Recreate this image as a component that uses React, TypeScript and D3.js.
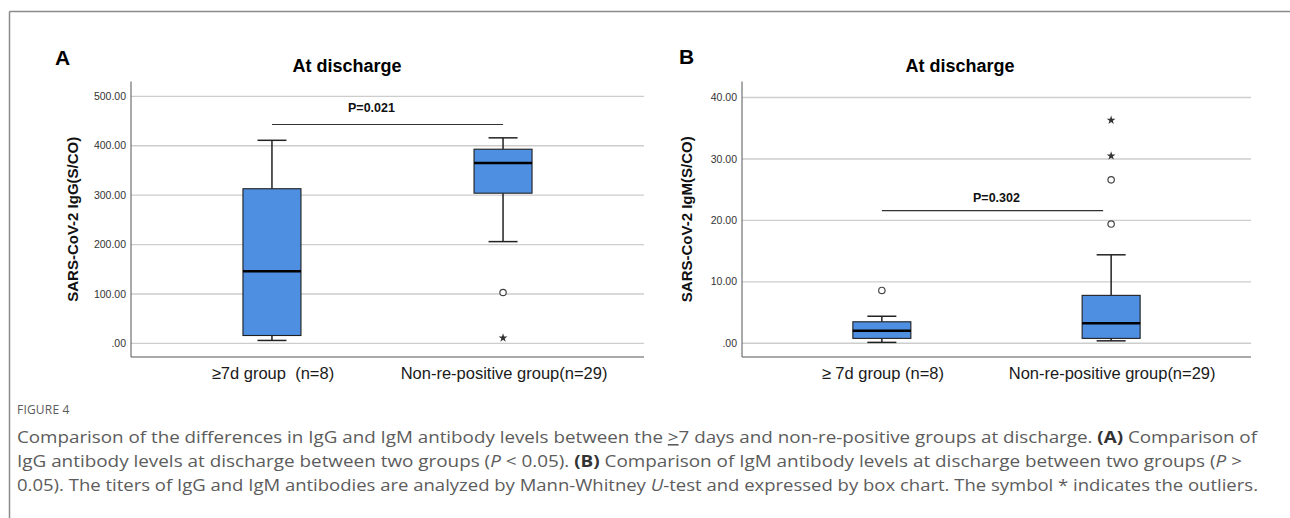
import React from "react";
import * as d3 from "d3";

// ---------- data ----------
const groupsA = ["≥7d group  (n=8)", "Non-re-positive group(n=29)"];
const groupsB = ["≥ 7d group (n=8)", "Non-re-positive group(n=29)"];

// IgG (panel A) box statistics per group
const iggLow = [6, 206];
const iggQ1 = [16, 304];
const iggMedian = [146, 365];
const iggQ3 = [313, 393];
const iggHigh = [411, 416];
const iggCircles = [[], [103]];
const iggStars = [[], [11]];
const iggTicks = [0, 100, 200, 300, 400, 500];
const iggP = { label: "P=0.021", value: 443 };

// IgM (panel B) box statistics per group
const igmLow = [0.15, 0.4];
const igmQ1 = [0.8, 0.8];
const igmMedian = [2.05, 3.25];
const igmQ3 = [3.5, 7.8];
const igmHigh = [4.4, 14.4];
const igmCircles = [[8.6], [26.6, 19.4]];
const igmStars = [[], [36.3, 30.5]];
const igmTicks = [0, 10, 20, 30, 40];
const igmP = { label: "P=0.302", value: 21.6 };

const fmt = (d: number) => (d === 0 ? ".00" : d.toFixed(2));

const SANS = "'Liberation Sans', Arial, sans-serif";
const BOX_FILL = "#4f8fe2";

type PanelProps = {
  letter: string;
  letterX: number;
  letterY: number;
  title: string;
  titleX: number;
  yLabel: string;
  yLabelX: number;
  groups: string[];
  low: number[];
  q1: number[];
  median: number[];
  q3: number[];
  high: number[];
  circles: number[][];
  stars: number[][];
  ticks: number[];
  domain: [number, number];
  x0: number;
  x1: number;
  p: { label: string; value: number };
  pOffsetX: number;
  pGap: number;
  pEndTrim: number;
};

function Panel(props: PanelProps) {
  const top = 81.5;
  const bottom = 357;
  const y = d3.scaleLinear().domain(props.domain).range([bottom, top]);
  const x = d3.scalePoint<string>().domain(props.groups).range([props.x0, props.x1]).padding(0.61);
  const bw = 58;
  const star = d3.symbol().type(d3.symbolStar).size(24)() as string;
  const c0 = x(props.groups[0]) as number;
  const c1 = x(props.groups[1]) as number;
  const py = y(props.p.value);
  return (
    <g fontFamily={SANS}>
      <text x={props.letterX} y={props.letterY} fontSize={21} fontWeight="bold" fill="#000">
        {props.letter}
      </text>
      <text x={props.titleX} y={72} fontSize={18} fontWeight="bold" textAnchor="middle" fill="#000">
        {props.title}
      </text>
      {/* grid */}
      {props.ticks.map((t) => (
        <g key={t}>
          <line x1={props.x0} x2={props.x1} y1={y(t)} y2={y(t)} stroke="#cdcdcd" strokeWidth={1.4} />
          <text x={props.x0 - 5} y={y(t) + 3.6} fontSize={10.5} textAnchor="end" fill="#333">
            {fmt(t)}
          </text>
        </g>
      ))}
      {/* axes */}
      <line x1={props.x0} x2={props.x0} y1={top} y2={bottom} stroke="#555" strokeWidth={1} />
      <line x1={props.x0} x2={props.x1} y1={bottom} y2={bottom} stroke="#555" strokeWidth={1} />
      <text
        transform={`translate(${props.yLabelX},${(top + bottom) / 2}) rotate(-90)`}
        fontSize={15}
        fontWeight="bold"
        textAnchor="middle"
        fill="#111"
      >
        {props.yLabel}
      </text>
      {/* p-value bracket */}
      <line x1={c0} x2={c1 - props.pEndTrim} y1={py} y2={py} stroke="#333" strokeWidth={1.2} />
      <text
        x={(c0 + c1) / 2 + props.pOffsetX}
        y={py - props.pGap}
        fontSize={12.5}
        fontWeight="bold"
        textAnchor="middle"
        fill="#111"
      >
        {props.p.label}
      </text>
      {/* boxes */}
      {props.groups.map((g, i) => {
        const cx = x(g) as number;
        return (
          <g key={g}>
            <line x1={cx} x2={cx} y1={y(props.high[i])} y2={y(props.q3[i])} stroke="#222" strokeWidth={1.5} />
            <line x1={cx} x2={cx} y1={y(props.q1[i])} y2={y(props.low[i])} stroke="#222" strokeWidth={1.5} />
            <line x1={cx - bw / 4} x2={cx + bw / 4} y1={y(props.high[i])} y2={y(props.high[i])} stroke="#222" strokeWidth={1.5} />
            <line x1={cx - bw / 4} x2={cx + bw / 4} y1={y(props.low[i])} y2={y(props.low[i])} stroke="#222" strokeWidth={1.5} />
            <rect
              x={cx - bw / 2}
              y={y(props.q3[i])}
              width={bw}
              height={y(props.q1[i]) - y(props.q3[i])}
              fill={BOX_FILL}
              stroke="#1f1f1f"
              strokeWidth={1.1}
            />
            <line x1={cx - bw / 2} x2={cx + bw / 2} y1={y(props.median[i])} y2={y(props.median[i])} stroke="#000" strokeWidth={2.6} />
            {props.circles[i].map((v, k) => (
              <circle key={"c" + k} cx={cx} cy={y(v)} r={3.2} fill="#fff" stroke="#444" strokeWidth={1.2} />
            ))}
            {props.stars[i].map((v, k) => (
              <path key={"s" + k} d={star} transform={`translate(${cx},${y(v)})`} fill="#333" />
            ))}
            <text x={cx + 1} y={378.5} fontSize={16.5} textAnchor="middle" fill="#1a1a1a" style={{ whiteSpace: "pre" }}>
              {g}
            </text>
          </g>
        );
      })}
    </g>
  );
}

export default function App() {
  const capFont = "'Open Sans', 'Noto Sans', sans-serif";
  const capColor = "#5c5c5c";
  const dark = "#333";
  return (
    <div style={{ position: "absolute", left: 0, top: 0 }}>
      <svg width={1290} height={518} style={{ display: "block", background: "#fff" }}>
        <rect x={0} y={0} width={1290} height={518} fill="#fff" />
        <line x1={9.5} x2={1290} y1={11.5} y2={11.5} stroke="#8a8a8a" strokeWidth={1.5} />
        <line x1={9.5} x2={9.5} y1={11.5} y2={518} stroke="#8a8a8a" strokeWidth={1.5} />
        <Panel
          letter="A"
          letterX={55}
          letterY={65}
          title="At discharge"
          titleX={347}
          yLabel="SARS-CoV-2 IgG(S/CO)"
          yLabelX={78}
          groups={groupsA}
          low={iggLow}
          q1={iggQ1}
          median={iggMedian}
          q3={iggQ3}
          high={iggHigh}
          circles={iggCircles}
          stars={iggStars}
          ticks={iggTicks}
          domain={[-27.5, 530]}
          x0={131}
          x1={644}
          p={iggP}
          pOffsetX={-16}
          pGap={12}
          pEndTrim={0}
        />
        <Panel
          letter="B"
          letterX={679}
          letterY={64}
          title="At discharge"
          titleX={960}
          yLabel="SARS-CoV-2 IgM(S/CO)"
          yLabelX={692}
          groups={groupsB}
          low={igmLow}
          q1={igmQ1}
          median={igmMedian}
          q3={igmQ3}
          high={igmHigh}
          circles={igmCircles}
          stars={igmStars}
          ticks={igmTicks}
          domain={[-2.23, 42.6]}
          x0={742}
          x1={1251}
          p={igmP}
          pOffsetX={0}
          pGap={9}
          pEndTrim={8}
        />
        {/* caption */}
        <text x={17} y={414} fontFamily={capFont} fontSize={12} fill={capColor} letterSpacing={0.2}>
          FIGURE 4
        </text>
        <g fontFamily={capFont} fontSize={16} fill={capColor}>
          <text x={17} y={443} textLength={1240} lengthAdjust="spacingAndGlyphs">
            Comparison of the differences in IgG and IgM antibody levels between the <tspan textDecoration="underline">&gt;</tspan>7 days and non-re-positive groups at discharge. <tspan fontWeight="bold" fill={dark}>(A)</tspan> Comparison of
          </text>
          <text x={17} y={467} textLength={1225} lengthAdjust="spacingAndGlyphs">
            IgG antibody levels at discharge between two groups (<tspan fontStyle="italic">P</tspan> &lt; 0.05). <tspan fontWeight="bold" fill={dark}>(B)</tspan> Comparison of IgM antibody levels at discharge between two groups (<tspan fontStyle="italic">P</tspan> &gt;
          </text>
          <text x={17} y={491} textLength={1241} lengthAdjust="spacingAndGlyphs">
            0.05). The titers of IgG and IgM antibodies are analyzed by Mann-Whitney <tspan fontStyle="italic">U</tspan>-test and expressed by box chart. The symbol * indicates the outliers.
          </text>
        </g>
      </svg>
    </div>
  );
}
